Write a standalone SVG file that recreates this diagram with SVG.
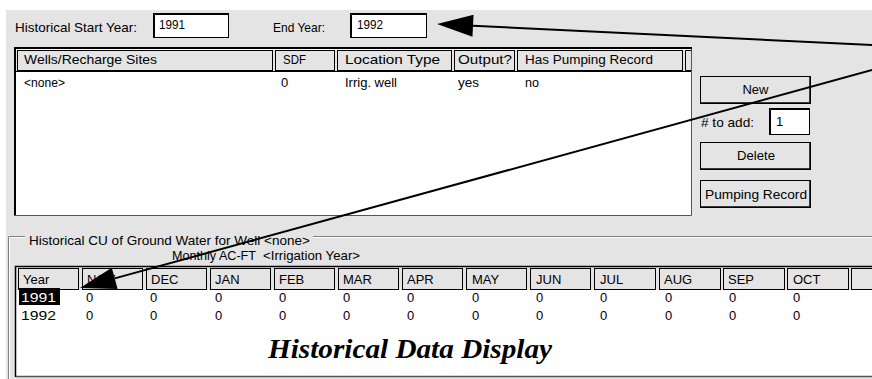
<svg xmlns="http://www.w3.org/2000/svg" width="872" height="379" viewBox="0 0 872 379">
<style>
text{font-family:"Liberation Sans",Arial,sans-serif;font-size:13px;fill:#000}
.hdr{fill:#e4e4e4;stroke:#000;stroke-width:1}
.btn{fill:#e4e4e4;stroke:#000;stroke-width:1}
.inp{fill:#fff;stroke:#000;stroke-width:1}
.hl{fill:none;stroke:#fff;stroke-width:1}
.sh{fill:none;stroke:#808080;stroke-width:1}
.etch{fill:none;stroke:#808080;stroke-width:1}
.etchw{fill:none;stroke:#fff;stroke-width:1}
.title{font-family:"Liberation Serif","Times New Roman",serif;font-weight:bold;font-style:italic;font-size:27px}
.conn{stroke:#000;stroke-width:2;fill:none}
</style>
<defs>
<marker id="ah" markerUnits="userSpaceOnUse" markerWidth="37" markerHeight="22" refX="0" refY="11" orient="auto" overflow="visible">
<path d="M0,0 L36,11 L0,22 z" fill="#000"/>
</marker>
</defs>
<rect x="0" y="0" width="872" height="379" fill="#fff"/>
<rect x="6" y="10" width="866" height="369" fill="#e4e4e4"/>

<g id="start-year">
<text x="15" y="32" textLength="122" lengthAdjust="spacingAndGlyphs">Historical Start Year:</text>
<rect class="inp" x="153.5" y="13.5" width="75" height="24"/>
<path d="M154.5,37 V14.5 H228" stroke="#000" stroke-width="1" fill="none"/>
<text x="159" y="29" textLength="26" lengthAdjust="spacingAndGlyphs">1991</text>
</g>

<g id="end-year">
<text x="273" y="32" textLength="52" lengthAdjust="spacingAndGlyphs">End Year:</text>
<rect class="inp" x="350.5" y="13.5" width="76" height="24"/>
<path d="M351.5,37 V14.5 H426" stroke="#000" stroke-width="1" fill="none"/>
<text x="357" y="29" textLength="26" lengthAdjust="spacingAndGlyphs">1992</text>
</g>

<g id="wells-table">
<rect x="15" y="49" width="676" height="167" fill="#fff"/>
<rect x="16" y="50" width="675" height="21" fill="#e4e4e4"/>
<rect class="hdr" x="17.5" y="50.5" width="255" height="20"/>
<rect class="hdr" x="275.5" y="50.5" width="59" height="20"/>
<rect class="hdr" x="337.5" y="50.5" width="114" height="20"/>
<rect class="hdr" x="454.5" y="50.5" width="60" height="20"/>
<rect class="hdr" x="517.5" y="50.5" width="165" height="20"/>
<path class="hdr" d="M691,50.5 H685.5 V70.5 H691"/>
<path d="M16,71.5 H691" stroke="#000" stroke-width="1"/>
<path d="M15,216 V48 H692" stroke="#000" stroke-width="2" fill="none"/>
<path d="M14,215.5 H691.5 V49" stroke="#555" stroke-width="1" fill="none"/>
<text x="24" y="64" textLength="133" lengthAdjust="spacingAndGlyphs">Wells/Recharge Sites</text>
<text x="283" y="64" textLength="23" lengthAdjust="spacingAndGlyphs">SDF</text>
<text x="345" y="64" textLength="95" lengthAdjust="spacingAndGlyphs">Location Type</text>
<text x="458" y="64" textLength="54" lengthAdjust="spacingAndGlyphs">Output?</text>
<text x="525" y="64" textLength="128" lengthAdjust="spacingAndGlyphs">Has Pumping Record</text>
<text x="24" y="87" textLength="41" lengthAdjust="spacingAndGlyphs">&lt;none&gt;</text>
<text x="281" y="87">0</text>
<text x="345" y="87" textLength="52" lengthAdjust="spacingAndGlyphs">Irrig. well</text>
<text x="458" y="87" textLength="21" lengthAdjust="spacingAndGlyphs">yes</text>
<text x="525" y="87" textLength="14" lengthAdjust="spacingAndGlyphs">no</text>
</g>

<g id="btn-new">
<rect class="btn" x="700.5" y="76.5" width="110" height="27"/>
<path d="M810,77 V103 H701" stroke="#000" stroke-width="1.5" fill="none"/>
<text x="755.5" y="94" text-anchor="middle">New</text>
</g>

<g id="to-add">
<text x="701" y="127" textLength="53" lengthAdjust="spacingAndGlyphs"># to add:</text>
<rect class="inp" x="769.5" y="108.5" width="40" height="26"/>
<path d="M770.5,134 V109.5 H809" stroke="#000" stroke-width="1" fill="none"/>
<text x="776" y="126">1</text>
</g>

<g id="btn-delete">
<rect class="btn" x="700.5" y="142.5" width="110" height="27"/>
<path d="M810,143 V169 H701" stroke="#000" stroke-width="1.5" fill="none"/>
<text x="756" y="160" text-anchor="middle" textLength="38" lengthAdjust="spacingAndGlyphs">Delete</text>
</g>

<g id="btn-pumping">
<rect class="btn" x="700.5" y="180.5" width="110" height="27"/>
<path d="M810,181 V207 H701" stroke="#000" stroke-width="1.5" fill="none"/>
<text x="705" y="199" textLength="102" lengthAdjust="spacingAndGlyphs">Pumping Record</text>
</g>

<g id="cu-group">
<path class="etch" d="M25,236.5 H8.5 V379 M313,236.5 H872"/>
<path class="etchw" d="M25,237.5 H9.5 V379 M313,237.5 H872"/>
<text x="29" y="245" textLength="281" lengthAdjust="spacingAndGlyphs">Historical CU of Ground Water for Well &lt;none&gt;</text>
<text x="172" y="260" textLength="84" lengthAdjust="spacingAndGlyphs">Monthly AC-FT</text>
<text x="263" y="260" textLength="97" lengthAdjust="spacingAndGlyphs">&lt;Irrigation Year&gt;</text>
</g>

<g id="cu-table">
<rect x="16" y="290" width="856" height="86" fill="#fff"/>
<path d="M15.5,377 V266.5 H872" stroke="#000" stroke-width="1.5" fill="none"/>
<path d="M16,376.5 H872" stroke="#555" stroke-width="1.5"/>
<rect class="hdr" x="18.5" y="268.5" width="60" height="21"/>
<rect class="hdr" x="82.5" y="268.5" width="60" height="21"/>
<rect class="hdr" x="146.5" y="268.5" width="60" height="21"/>
<rect class="hdr" x="210.5" y="268.5" width="60" height="21"/>
<rect class="hdr" x="274.5" y="268.5" width="60" height="21"/>
<rect class="hdr" x="338.5" y="268.5" width="60" height="21"/>
<rect class="hdr" x="402.5" y="268.5" width="60" height="21"/>
<rect class="hdr" x="466.5" y="268.5" width="60" height="21"/>
<rect class="hdr" x="530.5" y="268.5" width="60" height="21"/>
<rect class="hdr" x="594.5" y="268.5" width="61" height="21"/>
<rect class="hdr" x="659.5" y="268.5" width="61" height="21"/>
<rect class="hdr" x="723.5" y="268.5" width="61" height="21"/>
<rect class="hdr" x="787.5" y="268.5" width="61" height="21"/>
<rect class="hdr" x="851.5" y="268.5" width="30" height="21"/>
<text x="23" y="284">Year</text>
<text x="87" y="284">NOV</text>
<text x="151" y="284">DEC</text>
<text x="215" y="284">JAN</text>
<text x="279" y="284">FEB</text>
<text x="343" y="284">MAR</text>
<text x="407" y="284">APR</text>
<text x="472" y="284">MAY</text>
<text x="536" y="284">JUN</text>
<text x="600" y="284">JUL</text>
<text x="664" y="284">AUG</text>
<text x="728" y="284">SEP</text>
<text x="793" y="284">OCT</text>
<rect x="19" y="288" width="41" height="17" fill="#000"/>
<text x="21" y="302" style="fill:#fff" textLength="35" lengthAdjust="spacingAndGlyphs">1991</text>
<text x="21" y="320" textLength="35" lengthAdjust="spacingAndGlyphs">1992</text>
<g id="row-1991">
<text x="86" y="302">0</text><text x="150" y="302">0</text><text x="215" y="302">0</text><text x="279" y="302">0</text><text x="343" y="302">0</text><text x="407" y="302">0</text><text x="472" y="302">0</text><text x="536" y="302">0</text><text x="600" y="302">0</text><text x="665" y="302">0</text><text x="729" y="302">0</text><text x="793" y="302">0</text>
</g>
<g id="row-1992">
<text x="86" y="320">0</text><text x="150" y="320">0</text><text x="215" y="320">0</text><text x="279" y="320">0</text><text x="343" y="320">0</text><text x="407" y="320">0</text><text x="472" y="320">0</text><text x="536" y="320">0</text><text x="600" y="320">0</text><text x="665" y="320">0</text><text x="729" y="320">0</text><text x="793" y="320">0</text>
</g>
<text class="title" x="268" y="358" textLength="284" lengthAdjust="spacingAndGlyphs">Historical Data Display</text>
</g>

<g id="connectors">
<line class="conn" x1="872" y1="45" x2="473" y2="25.7" marker-end="url(#ah)"/>
<line class="conn" x1="872" y1="70" x2="114.7" y2="278.4" marker-end="url(#ah)"/>
</g>
</svg>
